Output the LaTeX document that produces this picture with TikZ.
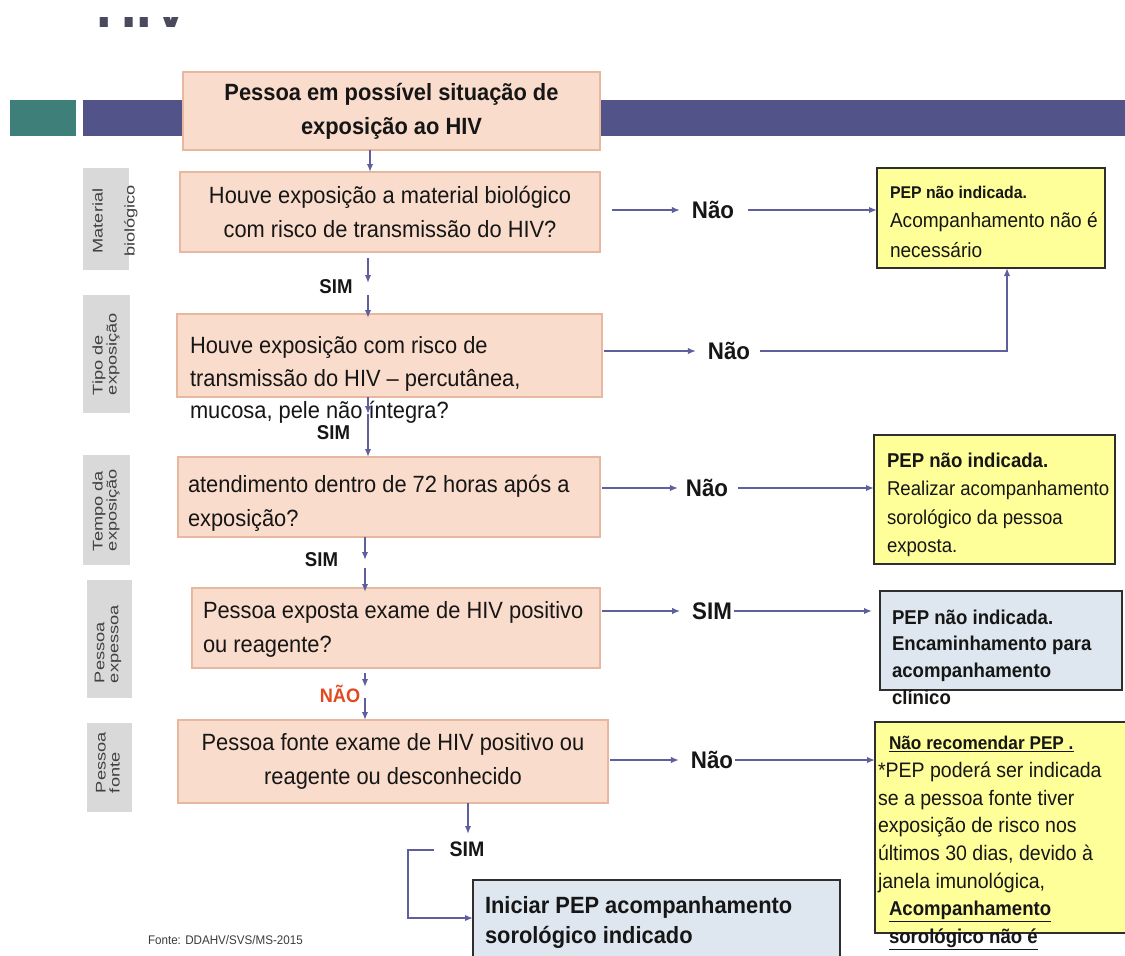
\documentclass[tikz,border=0pt]{standalone}
\usepackage{fontspec}
\setmainfont[FakeStretch=0.93]{Liberation Sans}
\newfontfamily\labfont[FakeStretch=1.3]{Liberation Sans}
\newfontfamily\hivfont{Liberation Sans}
\usetikzlibrary{arrows.meta,calc}
\definecolor{peach}{HTML}{F9DCCB}
\definecolor{peachline}{HTML}{E6B89F}
\definecolor{yel}{HTML}{FFFF99}
\definecolor{lblue}{HTML}{DEE7EF}
\definecolor{boxline}{HTML}{2E2E2E}
\definecolor{lgray}{HTML}{D9D9D9}
\definecolor{teal1}{HTML}{3E8079}
\definecolor{navy1}{HTML}{525389}
\definecolor{arrc}{HTML}{5F5F9E}
\definecolor{redt}{HTML}{E2491F}
\definecolor{txt}{HTML}{161616}
\definecolor{labc}{HTML}{404040}
\definecolor{hivc}{HTML}{4A4A5E}
\definecolor{fontc}{HTML}{3C3C3C}
\newcommand\mfs{\fontsize{23.5}{34}\selectfont}
\tikzset{
  every node/.style={inner sep=0pt, outer sep=0pt, text=txt},
  mainbox/.style={draw=peachline, fill=peach, line width=1.5pt},
  ybox/.style={draw=boxline, fill=yel, line width=1.8pt},
  bbox/.style={draw=boxline, fill=lblue, line width=1.8pt},
  labbox/.style={fill=lgray},
  arr/.style={draw=arrc, line width=1.6pt, -{Latex[length=8pt,width=6.5pt]}},
  lbl/.style={font=\bfseries\fontsize{24}{28}\selectfont},
  sml/.style={font=\bfseries\fontsize{20}{24}\selectfont},
  labtxt/.style={font=\labfont\fontsize{14}{14}\selectfont, text=labc, rotate=90},
  btxt/.style={anchor=base west, text width=#1, align=flush left},
}
\begin{document}
\begin{tikzpicture}[x=1pt,y=-1pt]
\useasboundingbox (0,0) rectangle (1125,956);
\clip (0,0) rectangle (1125,956);
\fill[white] (0,0) rectangle (1125,956);

% cropped title
\begin{scope}
  \clip (90,17.5) rectangle (200,28);
  \node[anchor=base west, font=\hivfont\bfseries\fontsize{56}{60}\selectfont, text=hivc] (hiv) at (96,27) {HIV};
\end{scope}

% header bars
\fill[teal1] (10,100) rectangle (76,136);
\fill[navy1] (83,100) rectangle (1125,136);

% left labels
\node[labbox, minimum width=46pt, minimum height=102pt] (L1) at (106,219) {};
\node[labbox, minimum width=47pt, minimum height=118pt] (L2) at (106.5,354) {};
\node[labbox, minimum width=47pt, minimum height=110pt] (L3) at (106.5,510) {};
\node[labbox, minimum width=45pt, minimum height=118pt] (L4) at (109.5,639) {};
\node[labbox, minimum width=45pt, minimum height=89pt] (L5) at (109.5,767.5) {};
\node[labtxt, align=center, font=\labfont\fontsize{14}{32}\selectfont] (L1t) at (115,221) {Material\\biológico};
\node[labtxt, align=left, anchor=west] (L2t) at (106,395) {Tipo de\\exposição};
\node[labtxt, align=left, anchor=west] (L3t) at (106,551) {Tempo da\\exposição};
\node[labtxt, align=left, anchor=west] (L4t) at (108,683) {Pessoa\\expessoa};
\node[labtxt, align=left, anchor=west] (L5t) at (108,793) {Pessoa\\fonte};

% main boxes
\node[mainbox, minimum width=417pt, minimum height=78pt, align=center, font=\bfseries\mfs] (top) at (391.5,111) {Pessoa em possível situação de\\exposição ao HIV};
\node[mainbox, minimum width=420pt, minimum height=80pt, align=center, font=\mfs] (b1) at (390,212) {Houve exposição a material biológico\\com risco de transmissão do HIV?};
\node[mainbox, minimum width=425pt, minimum height=83pt] (b2) at (389.5,355.5) {};
\node[btxt=440pt, font=\fontsize{23.5}{32.5}\selectfont] (b2t) at (190,353.5) {Houve exposição com risco de\\transmissão do HIV – percutânea,\\mucosa, pele não íntegra?};
\node[mainbox, minimum width=422pt, minimum height=80pt] (b3) at (389,497) {};
\node[btxt=440pt, font=\mfs] (b3t) at (188,492) {atendimento dentro de 72 horas após a\\exposição?};
\node[mainbox, minimum width=408pt, minimum height=80pt] (b4) at (396,628) {};
\node[btxt=440pt, font=\mfs] (b4t) at (203,618.5) {Pessoa exposta exame de HIV positivo\\ou reagente?};
\node[mainbox, minimum width=430pt, minimum height=83pt, align=center, font=\mfs] (b5) at (393,761.5) {Pessoa fonte exame de HIV positivo ou\\reagente ou desconhecido};

% final box
\node[bbox, anchor=north west, minimum width=367pt, minimum height=110pt] (b6) at (473,880) {};
\node[btxt=360pt, font=\bfseries\fontsize{23.5}{30}\selectfont] (b6t) at (485,913.5) {Iniciar PEP acompanhamento\\sorológico indicado};

% right boxes
\node[ybox, anchor=north west, minimum width=228pt, minimum height=100pt] (r1) at (877,168) {};
\node[btxt=230pt, font=\fontsize{20.5}{29.5}\selectfont] (r1t) at (890,198) {{\bfseries\fontsize{17}{29.5}\selectfont PEP não indicada.}\\Acompanhamento não é\\necessário};
\node[ybox, anchor=north west, minimum width=241pt, minimum height=129pt] (r2) at (874,435) {};
\node[btxt=240pt, font=\fontsize{20}{28.5}\selectfont] (r2t) at (887,467) {{\bfseries PEP não indicada.}\\Realizar acompanhamento\\sorológico da pessoa\\exposta.};
\node[bbox, anchor=north west, minimum width=242pt, minimum height=99pt] (r3) at (880,591) {};
\node[btxt=240pt, font=\bfseries\fontsize{20}{26.7}\selectfont] (r3t) at (892,624) {PEP não indicada.\\Encaminhamento para\\acompanhamento\\clínico};
\node[ybox, anchor=north west, minimum width=265pt, minimum height=211pt] (r4) at (875,722) {};
\node[btxt=250pt, font=\fontsize{21}{27.7}\selectfont] (r4t) at (878,749.7) {\hspace*{11pt}{\bfseries\fontsize{18.5}{27.7}\selectfont\underline{Não recomendar PEP .}}\\{}*PEP poderá ser indicada\\se a pessoa fonte tiver\\exposição de risco nos\\últimos 30 dias, devido à\\janela imunológica,\\\hspace*{11pt}{\bfseries\fontsize{20}{27.7}\selectfont\underline{Acompanhamento}}\\\hspace*{11pt}{\bfseries\fontsize{20}{27.7}\selectfont\underline{sorológico não é}}};

% vertical flow
\coordinate (xa) at (370,0);
\draw[arr] (top.south -| xa) -- (b1.north -| xa);

\node[sml] (sim1) at (336,286.5) {SIM};
\coordinate (s1a) at (368,283);
\coordinate (s1b) at (368,295);
\draw[arr, shorten <=6pt] (b1.south -| s1a) -- (s1a);
\draw[arr, shorten >=-4pt] (s1b) -- (b2.north -| s1b);

\node[sml] (sim2) at (333.5,433) {SIM};
\coordinate (s2) at (368,414);
\draw[arr] (b2.south -| s2) -- (s2);
\draw[arr] (s2) -- (b3.north -| s2);

\node[sml] (sim3) at (321.5,559.5) {SIM};
\coordinate (s3a) at (365,560);
\coordinate (s3b) at (365,568);
\draw[arr] (b3.south -| s3a) -- (s3a);
\draw[arr, shorten >=-4pt] (s3b) -- (b4.north -| s3b);

\node[font=\bfseries\fontsize{19.5}{22}\selectfont, text=redt] (nao4) at (340,693.5) {NÃO};
\coordinate (s4a) at (365,687);
\coordinate (s4b) at (365,698);
\draw[arr, shorten <=5pt] (b4.south -| s4a) -- (s4a);
\draw[arr] (s4b) -- (b5.north -| s4b);

\node[font=\bfseries\fontsize{21}{24}\selectfont] (sim5) at (467,849) {SIM};
\coordinate (s5) at (468,834);
\coordinate (c5) at (408,850);
\coordinate (c6) at (0,918);
\draw[arr] (b5.south -| s5) -- (s5);
\draw[arr] ([xshift=-16pt]sim5.west |- c5) -- (c5) |- (b6.west |- c6);

% right flow
\node[lbl] (n1) at (713,210) {Não};
\draw[arr, shorten <=12pt, shorten >=12pt] (b1.east |- n1) -- (n1.west);
\draw[arr, shorten <=14pt] (n1.east) -- (n1.east -| r1.west);

\node[lbl] (n2) at (729,351) {Não};
\coordinate (j2) at (1007,0);
\draw[arr, shorten <=2pt, shorten >=12pt] (b2.east |- n2) -- (n2.west);
\draw[arr, shorten <=10pt] (n2.east) -| (r1.south -| j2);

\node[lbl] (n3) at (707,488) {Não};
\draw[arr, shorten <=2pt, shorten >=8pt] (b3.east |- n3) -- (n3.west);
\draw[arr, shorten <=10pt] (n3.east) -- (n3.east -| r2.west);

\node[lbl] (n4) at (712,611) {SIM};
\draw[arr, shorten <=2pt, shorten >=12pt] (b4.east |- n4) -- (n4.west);
\draw[arr, shorten <=2pt, shorten >=8pt] (n4.east) -- (n4.east -| r3.west);

\node[lbl] (n5) at (712,760) {Não};
\draw[arr, shorten <=2pt, shorten >=12pt] (b5.east |- n5) -- (n5.west);
\draw[arr, shorten <=2pt] (n5.east) -- (n5.east -| r4.west);

% source
\node[anchor=west, font=\fontsize{12.5}{15}\selectfont, text=fontc] (fonte) at (148,940) {Fonte: DDAHV/SVS/MS-2015};
\end{tikzpicture}
\end{document}
